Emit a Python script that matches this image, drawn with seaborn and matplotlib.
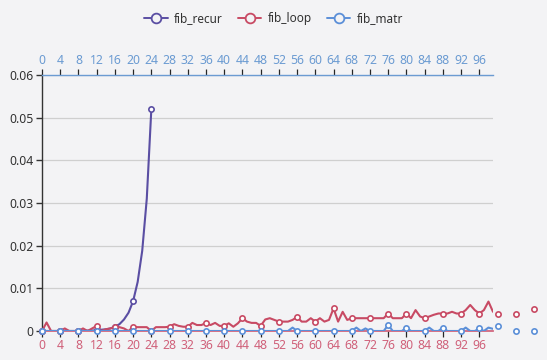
import numpy as np
import pandas as pd
import matplotlib
matplotlib.use("Agg")
import matplotlib.pyplot as plt
from matplotlib.lines import Line2D
import seaborn as sns

# ---- data ----
x_idx = list(range(100))
fib_recur = [0, 0, 0, 0, 0, 0, 0, 0, 0, 0,
             0.0001, 0.0001, 0.0002, 0.0003, 0.0004, 0.0006, 0.001, 0.0016, 0.0027, 0.0043,
             0.007, 0.0115, 0.0188, 0.031, 0.052]
fib_loop = [0, 0.002, 0, 0, 0, 0.0006, 0, 0, 0, 0.0006,
            0, 0.0006, 0.0012, 0, 0.0004, 0.0006, 0.0009, 0.0009, 0.0006, 0,
            0.001, 0.0009, 0.0009, 0.0009, 0, 0.0009, 0.0009, 0.0009, 0.001, 0.0016,
            0.0012, 0.001, 0.001, 0.0019, 0.0014, 0.0014, 0.0019, 0.0014, 0.0019, 0.0012,
            0.0012, 0.0018, 0.001, 0.0018, 0.003, 0.0022, 0.0019, 0.0019, 0.0012, 0.0027,
            0.003, 0.0026, 0.0022, 0.0022, 0.0022, 0.0026, 0.0033, 0.0022, 0.0022, 0.003,
            0.0022, 0.003, 0.0022, 0.0026, 0.0053, 0.0022, 0.0045, 0.0026, 0.003, 0.003,
            0.003, 0.003, 0.003, 0.003, 0.003, 0.003, 0.0041, 0.003, 0.003, 0.003,
            0.0041, 0.003, 0.0049, 0.0034, 0.003, 0.0034, 0.0038, 0.0041, 0.0041, 0.0041,
            0.0045, 0.0041, 0.0041, 0.0049, 0.0061, 0.0049, 0.0041, 0.0049, 0.0069, 0.0045]
fib_matr = [0] * 55 + [0.0008] + [0] * 13 + [0.0008, 0, 0.0006] + [0] * 4 + [0.0014] + [0] * 3 + \
           [0.0008] + [0] * 4 + [0.0008] + [0] * 2 + [0.0008] + [0] * 4 + [0.0008] + [0] * 2 + \
           [0.0006, 0, 0.0008, 0.0005]
extra_x = [100, 104, 108]
loop_extra = [0.0041, 0.0041, 0.0051]
matr_extra = [0.0012, 0, 0]

top_ticks = list(range(0, 100, 4))
y_ticks = [0, 0.01, 0.02, 0.03, 0.04, 0.05, 0.06]
y_labels = ["0", "0.01", "0.02", "0.03", "0.04", "0.05", "0.06"]

# ---- style ----
BG = "#f3f3f5"
C_RECUR = "#5a4ea3"
C_LOOP = "#c84a64"
C_MATR = "#5b8fd8"
C_TOP = "#6b9bd2"
C_BOT = "#d0617a"

sns.set_theme(style="white")
plt.rcParams['font.family'] = ['Noto Sans', 'DejaVu Sans']

fig = plt.figure(figsize=(5.47, 3.60), dpi=100, facecolor=BG)
ax = fig.add_axes([42 / 547, 29 / 360, 451 / 547, 256 / 360])
ax.set_facecolor(BG)

series = [("fib_recur", fib_recur, C_RECUR),
          ("fib_loop", fib_loop, C_LOOP),
          ("fib_matr", fib_matr, C_MATR)]

for name, vals, col in series:
    xs = x_idx[:len(vals)]
    sns.lineplot(x=xs, y=vals, ax=ax, color=col, linewidth=1.5, zorder=3, legend=False)

MS = 3.8
for name, vals, col in series:
    xs = np.array(x_idx[:len(vals)])
    v = np.array(vals)
    ax.plot(xs[::4], v[::4], 'o', mfc='white', mec=col, mew=1.2, ms=MS, zorder=4, clip_on=False)

ax.plot(extra_x, loop_extra, 'o', mfc='white', mec=C_LOOP, mew=1.2, ms=MS, zorder=4, clip_on=False)
ax.plot(extra_x, matr_extra, 'o', mfc='white', mec=C_MATR, mew=1.2, ms=MS, zorder=4, clip_on=False)

ax.set_xlim(0, 99)
ax.set_ylim(0, 0.06)
ax.set_yticks(y_ticks)
ax.set_yticklabels(y_labels)
ax.set_xticks(top_ticks)
ax.set_xticklabels([str(t) for t in top_ticks])
ax.grid(axis='y', color='#cfcfcf', linewidth=0.9)
ax.grid(axis='x', visible=False)
ax.set_axisbelow(True)

ax.spines["right"].set_visible(False)
ax.spines["left"].set_color("#333333")
ax.spines["left"].set_linewidth(1.0)
ax.spines["bottom"].set_color(C_BOT)
ax.spines["top"].set_color(C_TOP)
ax.spines["top"].set_linewidth(1.0)

ax.tick_params(axis='y', left=True, length=4, width=1, color="#333333",
               labelsize=8.8, labelcolor="#333333", pad=2)
ax.tick_params(axis='x', bottom=True, top=True, labeltop=True, labelbottom=True,
               direction='out', length=4, width=0.9, labelsize=8.8, pad=2)
for tk in ax.xaxis.get_major_ticks():
    tk.label1.set_color(C_BOT)
    tk.label2.set_color(C_TOP)
    tk.tick1line.set_color("#555555")
    tk.tick2line.set_color(C_TOP)
ax.set_xlabel("")
ax.set_ylabel("")

handles = [Line2D([0], [0], color=c, lw=1.4, marker='o', ms=7, mfc=BG, mec=c, mew=1.3)
           for _, _, c in series]
fig.legend(handles, [n for n, _, _ in series], loc='upper center', bbox_to_anchor=(0.5, 0.995),
           ncol=3, frameon=False, fontsize=8.5, handlelength=2.0, columnspacing=1.3,
           handletextpad=0.5, labelcolor="#333333")

fig.savefig("out.png", dpi=100, facecolor=BG)
